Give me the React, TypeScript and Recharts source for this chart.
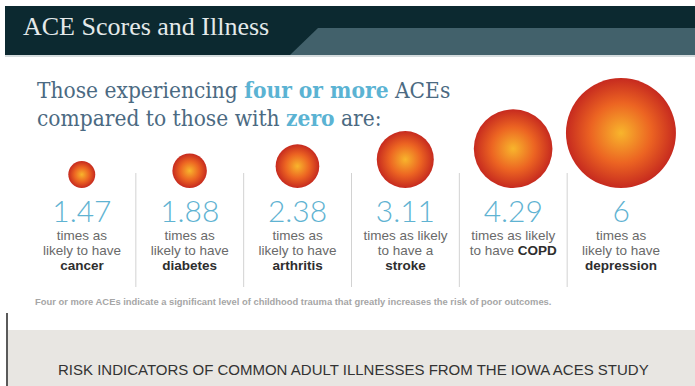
import { BarChart, Bar, XAxis, YAxis } from 'recharts'

const illnesses = ['cancer', 'diabetes', 'arthritis', 'stroke', 'COPD', 'depression']
const riskValues = [1.47, 1.88, 2.38, 3.11, 4.29, 6]
const valueLabels = ['1.47', '1.88', '2.38', '3.11', '4.29', '6']
const firstLines = ['times as', 'times as', 'times as', 'times as likely', 'times as likely', 'times as']
const secondLines = ['likely to have', 'likely to have', 'likely to have', 'to have a', 'to have ', 'likely to have']
// which illness name goes on its own third line (COPD sits on line 2)
const nameOnOwnLine = [true, true, true, true, false, true]

const chartData = illnesses.map((name, i) => ({ name, value: riskValues[i] }))

const SANS = '"Liberation Sans", Arial, sans-serif'

const Bubble = (props: any) => {
  const { x, y, width, height } = props
  if (!height) return null
  const r = height / 2
  return <circle cx={x + width / 2} cy={y + r} r={r} fill="url(#aceBubble)" />
}

const IllnessTick = (props: any) => {
  const { x, y, payload, index } = props
  const i = typeof index === 'number' ? index : illnesses.indexOf(payload.value)
  const base = y - 8
  const colW = 647 / 6
  return (
    <g>
      {i > 0 && (
        <line x1={x - colW / 2} x2={x - colW / 2} y1={base - 15} y2={base + 99} stroke="#d2d2d2" strokeWidth={1} />
      )}
      <text x={x} y={base + 34} textAnchor="middle" fill="#5fb3d2" fontSize={30} fontWeight={300} fontFamily='Lato, "Open Sans", sans-serif'>
        {valueLabels[i]}
      </text>
      <text x={x} y={base + 52} textAnchor="middle" fill="#6a6a6a" fontSize={13.5} fontFamily={SANS}>
        {firstLines[i]}
      </text>
      <text x={x} y={base + 67} textAnchor="middle" fill="#6a6a6a" fontSize={13.5} fontFamily={SANS}>
        {secondLines[i]}
        {!nameOnOwnLine[i] && (
          <tspan fill="#2e2e2e" fontWeight="bold">{payload.value}</tspan>
        )}
      </text>
      {nameOnOwnLine[i] && (
        <text x={x} y={base + 82} textAnchor="middle" fill="#2e2e2e" fontSize={13.5} fontWeight="bold" fontFamily={SANS}>
          {payload.value}
        </text>
      )}
    </g>
  )
}

export default function App() {
  return (
    <div style={{ position: 'fixed', left: 0, top: 0, width: 695, height: 386, background: '#fff', overflow: 'hidden' }}>
      {/* header band */}
      <svg width={695} height={60} style={{ position: 'absolute', left: 0, top: 0 }}>
        <rect x={5} y={6} width={690} height={49} fill="#0c2930" />
        <polygon points="290,55 318,28 695,28 695,55" fill="#42616b" />
        <rect x={5} y={55} width={690} height={2} fill="#d5dcde" />
        <text x={23} y={35} fill="#e4e9ea" fontSize={26} fontFamily='"Liberation Serif", "Times New Roman", serif'>
          ACE Scores and Illness
        </text>
      </svg>

      {/* headline */}
      <div
        style={{
          position: 'absolute',
          left: 37,
          top: 76,
          fontFamily: '"DejaVu Serif Condensed", "DejaVu Serif", serif',
          fontSize: 22.5,
          lineHeight: '28px',
          color: '#4b6a82',
          whiteSpace: 'nowrap',
        }}
      >
        <div>
          Those experiencing <span style={{ color: '#5bb3d3', fontWeight: 'bold' }}>four or more</span> ACEs
        </div>
        <div>
          compared to those with <span style={{ color: '#5bb3d3', fontWeight: 'bold' }}>zero</span> are:
        </div>
      </div>

      {/* footnote */}
      <div
        style={{
          position: 'absolute',
          left: 35,
          top: 296,
          fontFamily: SANS,
          fontSize: 9.4,
          fontWeight: 'bold',
          color: '#a6a6a6',
          whiteSpace: 'nowrap',
        }}
      >
        Four or more ACEs indicate a significant level of childhood trauma that greatly increases the risk of poor outcomes.
      </div>

      {/* bottom band */}
      <div style={{ position: 'absolute', left: 8, top: 330, width: 687, height: 56, background: '#e8e6e2' }} />
      <div style={{ position: 'absolute', left: 6, top: 313, width: 2, height: 73, background: '#5a5a5a' }} />
      <div
        style={{
          position: 'absolute',
          left: 58,
          top: 361,
          fontFamily: SANS,
          fontSize: 15,
          color: '#333',
          whiteSpace: 'nowrap',
          lineHeight: '18px',
        }}
      >
        RISK INDICATORS OF COMMON ADULT ILLNESSES FROM THE IOWA  ACES STUDY
      </div>

      <div style={{ position: 'absolute', left: 0, top: 0 }}>
        <BarChart width={695} height={386} data={chartData} margin={{ top: 78, right: 20, bottom: 0, left: 28 }}>
          <defs>
            <radialGradient id="aceBubble" cx="50%" cy="50%" r="50%">
              <stop offset="0%" stopColor="#f8b52c" />
              <stop offset="55%" stopColor="#ec6422" />
              <stop offset="100%" stopColor="#c62a1f" />
            </radialGradient>
          </defs>
          <YAxis hide domain={[0, 6]} />
          <XAxis
            dataKey="name"
            axisLine={false}
            tickLine={false}
            interval={0}
            tick={<IllnessTick />}
            height={198}
          />
          <Bar dataKey="value" shape={<Bubble />} isAnimationActive={false} />
        </BarChart>
      </div>
    </div>
  )
}
